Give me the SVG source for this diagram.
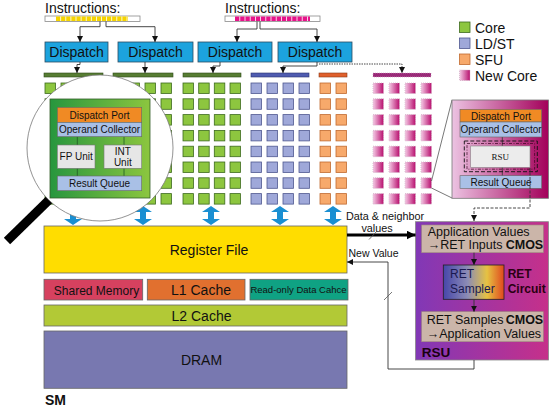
<svg xmlns="http://www.w3.org/2000/svg" width="550" height="407" viewBox="0 0 550 407">
<defs>
<style>
text{font-family:"Liberation Sans",Arial,sans-serif;fill:#111}
.disp{fill:#1ca3de;stroke:#2b4b62;stroke-width:0.8}
.dt{font-size:14px;text-anchor:middle}
.ln{fill:none;stroke:#333;stroke-width:0.9}
.big{font-size:14px;text-anchor:middle}
.s10{font-size:10px;text-anchor:middle}
.rs{font-size:12.5px}
.b{font-weight:bold}
.lg{font-size:14px}
.ib{fill:#fff;stroke:#8a8a8a;stroke-width:0.8}
.port{fill:#f08a24;stroke:#666;stroke-width:0.6}
.oc{fill:#a9c0e6;stroke:#666;stroke-width:0.6}
.unit{fill:#e6e6e6;stroke:#777;stroke-width:0.6}
.mem{stroke:#666;stroke-width:0.8}
.tan{fill:#cbb5a9;stroke:#a08a80;stroke-width:0.6}
.barrow{fill:#1a8fd2}
</style>
<linearGradient id="gM" x1="0" y1="0" x2="1" y2="0"><stop offset="0" stop-color="#f5cbe6"/><stop offset="1" stop-color="#b80f6e"/></linearGradient>
<linearGradient id="gGreen" x1="0" y1="0" x2="1" y2="0"><stop offset="0" stop-color="#27963e"/><stop offset="1" stop-color="#8cc63f"/></linearGradient>
<linearGradient id="gPanel" x1="0" y1="0" x2="1" y2="0"><stop offset="0" stop-color="#ecc3e2"/><stop offset="1" stop-color="#a3005a"/></linearGradient>
<linearGradient id="gRSU" x1="0" y1="0" x2="1" y2="0"><stop offset="0" stop-color="#8138b6"/><stop offset="1" stop-color="#c6308a"/></linearGradient>
<linearGradient id="gRET" x1="0" y1="0" x2="1" y2="0"><stop offset="0" stop-color="#4646aa"/><stop offset="0.4" stop-color="#8c8cb6"/><stop offset="0.72" stop-color="#e6c242"/><stop offset="1" stop-color="#e0481e"/></linearGradient>
<g id="col">
<rect x="0" y="0" width="10.5" height="10.5"/>
<rect x="0" y="15.8" width="10.5" height="10.5"/>
<rect x="0" y="31.6" width="10.5" height="10.5"/>
<rect x="0" y="47.4" width="10.5" height="10.5"/>
<rect x="0" y="63.2" width="10.5" height="10.5"/>
<rect x="0" y="79" width="10.5" height="10.5"/>
<rect x="0" y="94.8" width="10.5" height="10.5"/>
<rect x="0" y="110.6" width="10.5" height="10.5"/>
</g>
<path id="dbl" d="M0,206 L9,212 L3,212 L3,219 L9,219 L0,225 L-9,219 L-3,219 L-3,212 L-9,212 Z"/>
<marker id="ah" viewBox="0 0 10 10" refX="10" refY="5" markerWidth="6" markerHeight="6" markerUnits="userSpaceOnUse" orient="auto"><path d="M0,0 L10,5 L0,10 z" fill="#111"/></marker>
<marker id="ahb" viewBox="0 0 10 10" refX="10" refY="5" markerWidth="9" markerHeight="9" markerUnits="userSpaceOnUse" orient="auto"><path d="M0,0 L10,5 L0,10 z" fill="#000"/></marker>
</defs>
<rect width="550" height="407" fill="#fff"/>

<g id="instructions-left">
<text x="45" y="13" class="lg">Instructions:</text>
<rect x="45" y="16" width="95" height="5.5" class="ib"/>
<rect x="56" y="16.5" width="72" height="4.5" fill="#f5d400"/>
<line x1="56" y1="18.75" x2="128" y2="18.75" stroke="#fff" stroke-width="4.5" stroke-dasharray="0.8 4.3" stroke-dashoffset="-4.3"/>
</g>
<g id="instructions-right">
<text x="225" y="13" class="lg">Instructions:</text>
<rect x="225" y="16" width="95" height="5.5" class="ib"/>
<rect x="235" y="16.5" width="75" height="4.5" fill="#e6148a"/>
<line x1="235" y1="18.75" x2="310" y2="18.75" stroke="#fff" stroke-width="4.5" stroke-dasharray="0.8 4.4" stroke-dashoffset="-4.4"/>
</g>

<g id="dispatch1"><rect x="45" y="42" width="63" height="20" class="disp"/><text x="76.5" y="57" class="dt">Dispatch</text></g>
<g id="dispatch2"><rect x="118" y="42" width="75" height="20" class="disp"/><text x="155.5" y="57" class="dt">Dispatch</text></g>
<g id="dispatch3"><rect x="198" y="42" width="74" height="20" class="disp"/><text x="235" y="57" class="dt">Dispatch</text></g>
<g id="dispatch4"><rect x="278" y="42" width="74" height="20" class="disp"/><text x="315" y="57" class="dt">Dispatch</text></g>

<g id="bars">
<rect x="44" y="73" width="59" height="4" fill="#577d33" stroke="#2e4a1a" stroke-width="0.6"/>
<rect x="113" y="73" width="60" height="4" fill="#577d33" stroke="#2e4a1a" stroke-width="0.6"/>
<rect x="183" y="73" width="58" height="4" fill="#577d33" stroke="#2e4a1a" stroke-width="0.6"/>
<rect x="251" y="73" width="58" height="4" fill="#4f5cb0" stroke="#2a3270" stroke-width="0.6"/>
<rect x="319" y="73" width="28" height="4" fill="#e0602c" stroke="#8a3a18" stroke-width="0.6"/>
<rect x="373" y="73" width="58" height="4" fill="#9a2a78" stroke="#d0a0c0" stroke-width="0.6" stroke-dasharray="1 1"/>
</g>

<g id="cores" stroke-width="0.8">
<g fill="#8dc63f" stroke="#3d6a1e">
<use href="#col" x="45" y="83"/><use href="#col" x="61" y="83"/><use href="#col" x="77" y="83"/><use href="#col" x="93" y="83"/>
<use href="#col" x="113" y="83"/><use href="#col" x="129" y="83"/><use href="#col" x="145" y="83"/><use href="#col" x="161" y="83"/>
<use href="#col" x="183" y="83"/><use href="#col" x="198.7" y="83"/><use href="#col" x="214.3" y="83"/><use href="#col" x="230" y="83"/>
</g>
<g fill="#9fa8d9" stroke="#4f5890">
<use href="#col" x="251" y="83"/><use href="#col" x="267" y="83"/><use href="#col" x="283" y="83"/><use href="#col" x="299" y="83"/>
</g>
<g fill="#f7a96b" stroke="#c06a30">
<use href="#col" x="320" y="83"/><use href="#col" x="336" y="83"/>
</g>
<g fill="url(#gM)" stroke="#d2b2c6" stroke-dasharray="1 1">
<use href="#col" x="373" y="83"/><use href="#col" x="389" y="83"/><use href="#col" x="405" y="83"/><use href="#col" x="421" y="83"/>
</g>
</g>

<g id="bus-arrows" class="barrow">
<use href="#dbl" x="73"/><use href="#dbl" x="143"/><use href="#dbl" x="211"/><use href="#dbl" x="280"/><use href="#dbl" x="333"/>
</g>

<g id="magnifier">
<line x1="52" y1="197" x2="7" y2="241" stroke="#000" stroke-width="9"/>
<circle cx="100" cy="148" r="73" fill="#fff" stroke="#777" stroke-width="0.8"/>
<rect x="50" y="99" width="100" height="99" fill="url(#gGreen)" stroke="#355f28" stroke-width="0.8"/>
<line x1="77.3" y1="136.7" x2="77.3" y2="176" stroke="#1f5a24" stroke-width="0.8"/>
<line x1="124" y1="136.7" x2="124" y2="176" stroke="#1f5a24" stroke-width="0.8"/>
<rect x="57.3" y="107.3" width="84.4" height="15" class="port"/>
<text x="99.5" y="118.7" class="s10">Dispatch Port</text>
<rect x="57.3" y="122.3" width="84.4" height="14.4" class="oc"/>
<text x="99.5" y="133.2" class="s10">Operand Collector</text>
<rect x="57.3" y="145" width="37.7" height="23.3" class="unit"/>
<text x="76.2" y="160.3" class="s10">FP Unit</text>
<rect x="104" y="145" width="37.7" height="23.3" class="unit"/>
<text x="122.8" y="154.5" class="s10">INT</text>
<text x="122.8" y="166.3" class="s10">Unit</text>
<rect x="57.3" y="176" width="84.4" height="14.7" class="oc"/>
<text x="99.5" y="187" class="s10">Result Queue</text>
</g>

<g id="register-file"><rect x="44" y="226" width="303" height="47" fill="#ffdd00" class="mem"/><text x="209" y="255" class="big">Register File</text></g>
<g id="shared-memory"><rect x="44" y="279.3" width="98.7" height="20.7" fill="#d6415f" class="mem"/><text x="96.5" y="294.5" font-size="12" text-anchor="middle">Shared Memory</text></g>
<g id="l1-cache"><rect x="147.3" y="279.3" width="97.7" height="20.7" fill="#e1702f" class="mem"/><text x="201" y="295" class="big">L1 Cache</text></g>
<g id="readonly-cache"><rect x="250" y="279.3" width="98" height="20.7" fill="#0fa283" class="mem"/><text x="298.5" y="293" font-size="9.5" text-anchor="middle">Read-only Data Cahce</text></g>
<g id="l2-cache"><rect x="44" y="305" width="303" height="21" fill="#b2c936" class="mem"/><text x="201.5" y="320.5" class="big">L2 Cache</text></g>
<g id="dram"><rect x="44" y="331" width="303" height="57.3" fill="#7878b0" class="mem"/><text x="201.5" y="365" class="big">DRAM</text></g>
<text x="45" y="405" font-size="14" class="b">SM</text>

<g id="legend">
<rect x="459.5" y="22" width="10.5" height="10.5" fill="#8dc63f" stroke="#3d6a1e" stroke-width="0.8"/>
<text x="475" y="32.5" class="lg">Core</text>
<rect x="459.5" y="38" width="10.5" height="10.5" fill="#9fa8d9" stroke="#4f5890" stroke-width="0.8"/>
<text x="475" y="48.5" class="lg">LD/ST</text>
<rect x="459.5" y="54" width="10.5" height="10.5" fill="#f7a96b" stroke="#c06a30" stroke-width="0.8"/>
<text x="475" y="64.5" class="lg">SFU</text>
<rect x="459.5" y="70" width="10.5" height="10.5" fill="url(#gM)" stroke="#d2b2c6" stroke-width="0.8" stroke-dasharray="1 1"/>
<text x="475" y="80.5" class="lg">New Core</text>
</g>

<g id="new-core-zoom">
<line x1="431.5" y1="181" x2="452" y2="100" stroke="#555" stroke-width="0.8"/>
<line x1="431.5" y1="188" x2="452" y2="198" stroke="#555" stroke-width="0.8"/>
<rect x="452" y="100" width="96.5" height="98.3" fill="url(#gPanel)" stroke="#777" stroke-width="0.8"/>
<line x1="502.3" y1="137" x2="502.3" y2="176" stroke="#333" stroke-width="0.8"/>
<rect x="460" y="109.3" width="81.7" height="12.7" class="port"/>
<text x="501" y="119.5" class="s10">Dispatch Port</text>
<rect x="460" y="122" width="81.7" height="15" class="oc"/>
<text x="501" y="133.3" class="s10">Operand Collector</text>
<rect x="464.3" y="141" width="73" height="30.7" fill="none" stroke="#111" stroke-width="0.9" stroke-dasharray="4 2"/>
<rect x="467" y="143.5" width="67.6" height="25.7" fill="none" stroke="#3a0020" stroke-width="0.7" stroke-dasharray="3 1.5 1 1.5"/>
<rect x="470.7" y="146" width="59.3" height="21.3" fill="#ececec" stroke="#888" stroke-width="0.6"/>
<text x="500.3" y="160" font-family="Liberation Serif,serif" font-size="9" text-anchor="middle" style="font-family:'Liberation Serif',serif">RSU</text>
<rect x="460" y="175.7" width="81.7" height="12.6" class="oc"/>
<text x="501" y="186" class="s10">Result Queue</text>
</g>

<g id="rsu">
<rect x="415.5" y="221.7" width="133" height="138.3" fill="url(#gRSU)" stroke="#888" stroke-width="0.8"/>
<rect x="421.7" y="225" width="121.6" height="27.7" class="tan"/>
<text x="427.7" y="235.5" class="rs">Application Values</text>
<text x="427.7" y="249.3" class="rs">→RET Inputs</text>
<text x="505.7" y="249.3" class="rs b">CMOS</text>
<rect x="443.3" y="265" width="60.7" height="34.3" fill="url(#gRET)" stroke="#222" stroke-width="0.8"/>
<text x="450" y="278" font-size="12" fill="#1a1a50" style="fill:#1a1a50">RET</text>
<text x="450" y="293" font-size="12" fill="#1a1a50" style="fill:#1a1a50">Sampler</text>
<text x="507.7" y="278" font-size="12" class="b" style="fill:#2a0012">RET</text>
<text x="507.7" y="293" font-size="12" class="b" style="fill:#2a0012">Circuit</text>
<rect x="421.7" y="311.7" width="121.6" height="30" class="tan"/>
<text x="426.7" y="324" class="rs">RET Samples</text>
<text x="505.7" y="324" class="rs b">CMOS</text>
<text x="426.7" y="338.3" class="rs">→Application Values</text>
<text x="421.7" y="356.7" font-size="13.5" class="b" style="fill:#1a0010">RSU</text>
<line x1="474" y1="252.7" x2="474" y2="265" class="ln" marker-end="url(#ah)"/>
<line x1="474" y1="299.3" x2="474" y2="311.7" class="ln" marker-end="url(#ah)"/>
</g>

<g id="connectors">
<path d="M100,21.5 V26.7 H80 V42" class="ln" marker-end="url(#ah)"/>
<path d="M106,21.5 V26.7 H155 V42" class="ln" marker-end="url(#ah)"/>
<path d="M257,21.5 V29 H237 V42" class="ln" marker-end="url(#ah)"/>
<path d="M260,21.5 V29 H317 V42" class="ln" marker-end="url(#ah)"/>
<path d="M80,62 V64.5 H77 V73" class="ln" marker-end="url(#ah)"/>
<path d="M145,62 V73" class="ln" marker-end="url(#ah)"/>
<path d="M220,62 V66 H213 V73" class="ln" marker-end="url(#ah)"/>
<path d="M317,62 V66 H283 V73" class="ln" marker-end="url(#ah)"/>
<path d="M319,64 H402 V73" class="ln" stroke-dasharray="1.5 1" marker-end="url(#ah)"/>
<path d="M530,168 V208 H474 V221" class="ln" stroke="#111" stroke-width="1" stroke-dasharray="3 1.5" marker-end="url(#ah)"/>
<line x1="347" y1="235" x2="415.5" y2="235" stroke="#000" stroke-width="3" marker-end="url(#ahb)"/>
<line x1="369" y1="239.5" x2="377" y2="231" stroke="#555" stroke-width="0.8"/>
<text x="385" y="220" font-size="10.8" text-anchor="middle">Data &amp; neighbor</text>
<text x="377" y="232" font-size="10.8" text-anchor="middle">values</text>
<path d="M474,360 V369 H388 V262 H347" class="ln" marker-end="url(#ah)"/>
<line x1="384" y1="300" x2="392" y2="292" stroke="#555" stroke-width="0.8"/>
<text x="373.5" y="257" font-size="10.5" text-anchor="middle">New Value</text>
</g>
</svg>
